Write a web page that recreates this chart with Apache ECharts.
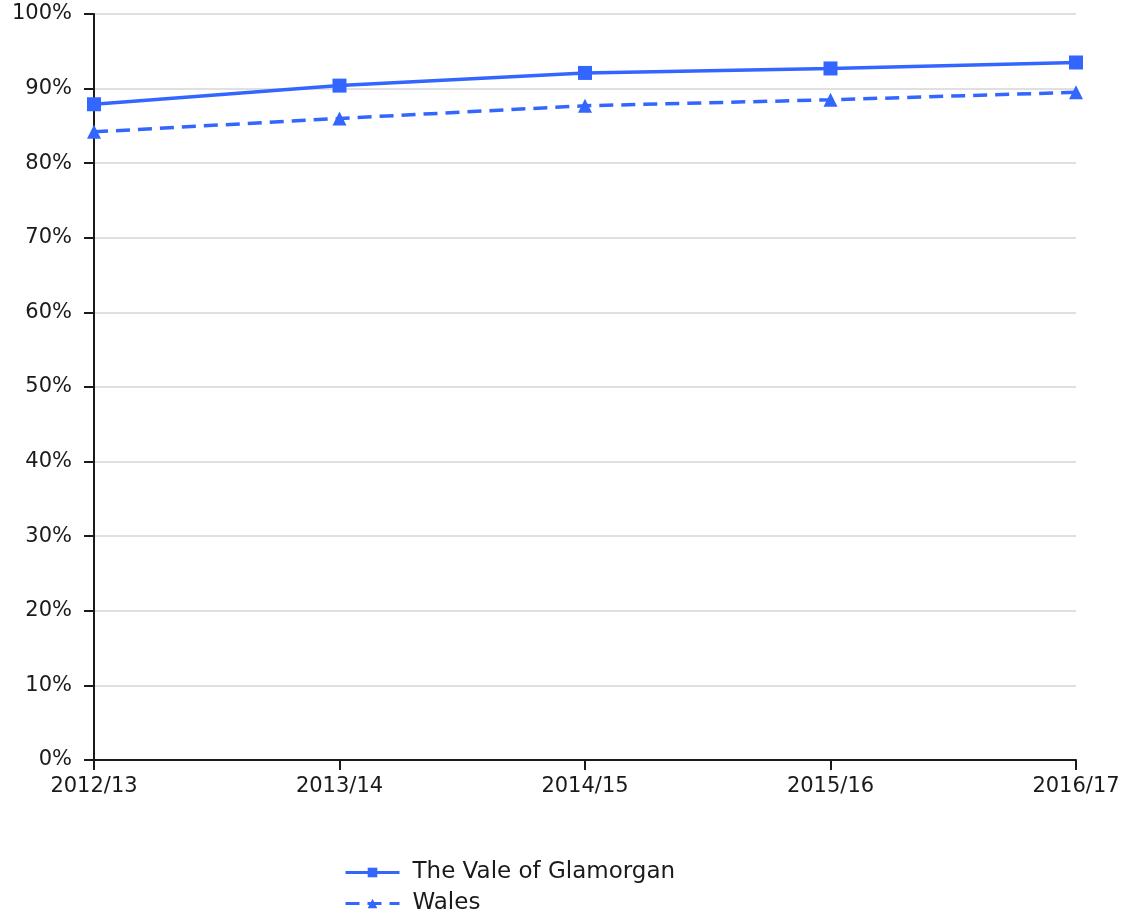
<!DOCTYPE html>
<html><head><meta charset="utf-8">
<script src="https://cdn.jsdelivr.net/npm/echarts@6/dist/echarts.min.js"></script>
<style>html,body{margin:0;padding:0;background:#fff}#c{width:1134px;height:915px}</style>
</head><body><div id="c"></div>
<script>
const categories = ['2012/13','2013/14','2014/15','2015/16','2016/17'];
const vale = [87.9, 90.4, 92.1, 92.7, 93.5];
const wales = [84.2, 86.0, 87.7, 88.5, 89.5];
const seriesNames = ['The Vale of Glamorgan','Wales'];
const yTicks = [0,10,20,30,40,50,60,70,80,90,100];

const chart = echarts.init(document.getElementById('c'), null, {renderer:'canvas'});
const FF = 'DejaVu Sans, Liberation Sans, Arial, sans-serif';
const font = {fontFamily:FF, fontSize:21, color:'#1a1a1a'};
chart.setOption({
  animation:false,
  grid:{left:94, right:58, top:14, bottom:155, containLabel:false},
  legend:{
    orient:'vertical', left:344, top:861, height:60, padding:0,
    itemWidth:54, itemHeight:12, itemGap:8,
    textStyle:{fontFamily:FF, fontSize:23, color:'#1a1a1a', padding:[0,0,0,8]},
    lineStyle:{width:3},
    data:seriesNames
  },
  xAxis:{
    type:'category', data:categories, boundaryGap:false,
    axisLine:{lineStyle:{color:'#1a1a1a', width:2}},
    axisTick:{show:true, length:10, lineStyle:{color:'#1a1a1a', width:2}},
    axisLabel:Object.assign({margin:16, interval:0, showMinLabel:true, showMaxLabel:true}, font),
    splitLine:{show:false}
  },
  yAxis:{
    type:'value', min:0, max:100, interval:10,
    axisLine:{show:true, lineStyle:{color:'#1a1a1a', width:2}},
    axisTick:{show:true, length:10, lineStyle:{color:'#1a1a1a', width:2}},
    axisLabel:Object.assign({margin:22, formatter:v=>yTicks.includes(v)?v+'%':''}, font),
    splitLine:{show:true, lineStyle:{color:'#d6d6d6', width:1.5}}
  },
  series:[
    {name:seriesNames[0], type:'line', data:vale, symbol:'rect', symbolSize:14,
     lineStyle:{color:'#3366ff', width:3.5}, itemStyle:{color:'#3366ff'}},
    {name:seriesNames[1], type:'line', data:wales, symbol:'triangle', symbolSize:14,
     lineStyle:{color:'#3366ff', width:3.5, type:[14,8]}, itemStyle:{color:'#3366ff'}}
  ]
});
</script></body></html>
